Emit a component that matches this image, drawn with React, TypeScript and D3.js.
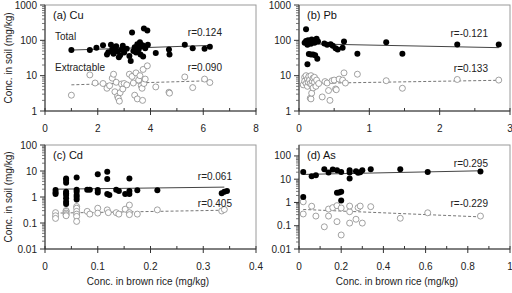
import React from 'react';
import * as d3 from 'd3';

type Pt = [number, number];

// [rice conc, soil conc] pairs, mg/kg
const cuTotal: Pt[] = [
  [1.0, 53], [1.7, 53], [1.95, 62], [2.2, 72], [2.35, 40], [2.4, 46], [2.5, 75], [2.55, 55],
  [2.6, 42], [2.65, 62], [2.7, 68], [2.75, 48], [2.8, 33], [2.85, 38], [2.9, 55], [2.95, 70],
  [3.0, 45], [3.1, 58], [3.2, 36], [3.25, 26], [3.3, 167], [3.35, 50], [3.4, 64], [3.45, 45],
  [3.5, 78], [3.55, 55], [3.6, 88], [3.62, 40], [3.65, 67], [3.7, 73], [3.72, 35], [3.75, 215],
  [3.8, 60], [3.88, 190], [3.9, 75], [4.2, 44], [4.7, 55], [4.72, 40], [5.3, 75], [5.6, 60],
  [6.05, 58], [6.25, 66],
];
const cuExtract: Pt[] = [
  [1.0, 2.8], [1.7, 10.5], [1.9, 6.2], [2.2, 6.0], [2.35, 4.4], [2.45, 5.2], [2.55, 8.5], [2.6, 11],
  [2.65, 3.5], [2.7, 6.5], [2.75, 2.6], [2.78, 2.3], [2.82, 1.9], [2.85, 3.3], [2.9, 5.8], [2.95, 4.2],
  [3.0, 6.0], [3.1, 5.5], [3.2, 11], [3.3, 9.5], [3.35, 6.2], [3.4, 2.8], [3.45, 12], [3.5, 2.2],
  [3.55, 7.5], [3.6, 10], [3.65, 5.2], [3.68, 4.4], [3.7, 2.0], [3.72, 15], [3.75, 6.0], [3.8, 8],
  [3.88, 19], [4.2, 4.8], [4.7, 3.4], [4.72, 3.2], [5.3, 9.2], [5.6, 4.6], [6.05, 8], [6.25, 6.4],
];
const cuTotalFit: Pt[] = [[1.0, 53], [6.3, 72]];
const cuExtractFit: Pt[] = [[1.0, 5.5], [6.3, 7.2]];

const pbTotal: Pt[] = [
  [0.1, 205], [0.08, 85], [0.1, 95], [0.12, 75], [0.13, 100], [0.15, 90], [0.17, 80], [0.18, 105],
  [0.2, 95], [0.22, 85], [0.25, 110], [0.27, 92], [0.14, 41], [0.17, 40], [0.2, 40], [0.23, 38],
  [0.12, 21], [0.26, 30], [0.36, 82], [0.4, 75], [0.45, 78], [0.48, 70], [0.52, 60], [0.55, 55],
  [0.62, 62], [0.64, 92], [0.83, 42], [1.24, 88], [1.47, 42], [2.25, 76], [2.84, 76],
];
const pbExtract: Pt[] = [
  [0.06, 5.5], [0.08, 9], [0.08, 7], [0.1, 6], [0.1, 10], [0.12, 8], [0.12, 5], [0.13, 6.5],
  [0.14, 9.5], [0.15, 7.5], [0.16, 6], [0.16, 2.3], [0.17, 2.2], [0.17, 10], [0.18, 5.5], [0.18, 3.2],
  [0.19, 7], [0.2, 8.5], [0.2, 4.5], [0.22, 6.5], [0.22, 9], [0.24, 5], [0.25, 7.5], [0.28, 6],
  [0.33, 2.5], [0.37, 6.8], [0.4, 6.2], [0.42, 3.8], [0.44, 2.0], [0.47, 7.2], [0.5, 7.5], [0.52, 4.2],
  [0.53, 4.0], [0.57, 8], [0.62, 7.5], [0.64, 12], [0.66, 6.2], [0.83, 11], [1.24, 7.2], [1.47, 4.4],
  [2.25, 7.8], [2.84, 7.5],
];
const pbTotalFit: Pt[] = [[0.08, 80], [2.84, 62]];
const pbExtractFit: Pt[] = [[0.06, 6.0], [2.84, 7.4]];

const cdTotal: Pt[] = [
  [0.02, 1.85], [0.02, 1.5], [0.02, 1.3],
  [0.04, 5.1], [0.04, 4.5], [0.04, 3.5], [0.04, 1.6], [0.04, 1.4], [0.04, 1.2], [0.04, 0.9], [0.04, 0.66], [0.04, 0.54],
  [0.06, 5.6], [0.06, 1.9], [0.06, 1.6], [0.06, 1.2], [0.06, 1.0], [0.06, 0.8],
  [0.08, 1.9], [0.085, 1.9], [0.1, 7.5], [0.1, 1.85], [0.1, 1.5],
  [0.118, 9.3], [0.118, 4.9], [0.118, 1.3], [0.122, 1.2],
  [0.135, 1.9], [0.14, 1.7], [0.152, 1.3], [0.16, 5.2], [0.16, 1.7], [0.16, 1.3], [0.175, 1.8],
  [0.213, 1.8], [0.335, 1.4], [0.34, 1.6], [0.345, 1.7],
];
const cdExtract: Pt[] = [
  [0.02, 0.25], [0.02, 0.19], [0.02, 0.15],
  [0.04, 0.30], [0.04, 0.28], [0.04, 0.24], [0.04, 0.21], [0.04, 0.19],
  [0.06, 0.43], [0.06, 0.37], [0.06, 0.28], [0.06, 0.22], [0.06, 0.18], [0.06, 0.115],
  [0.08, 0.28], [0.085, 0.22], [0.1, 0.37], [0.1, 0.24], [0.118, 0.32], [0.12, 0.25],
  [0.135, 0.25], [0.14, 0.22], [0.152, 0.34], [0.16, 0.49], [0.16, 0.25], [0.16, 0.21],
  [0.175, 0.22], [0.213, 0.32], [0.335, 0.29], [0.34, 0.33],
];
const cdTotalFit: Pt[] = [[0.02, 2.0], [0.34, 2.4]];
const cdExtractFit: Pt[] = [[0.02, 0.24], [0.34, 0.31]];

const asTotal: Pt[] = [
  [0.02, 20.6], [0.02, 1.7], [0.06, 13.5], [0.08, 14.8], [0.12, 27], [0.14, 19.4], [0.16, 26],
  [0.18, 24], [0.2, 20.6], [0.18, 2.6], [0.19, 2.7], [0.2, 2.9], [0.2, 1.2], [0.24, 24],
  [0.24, 19.4], [0.24, 10.7], [0.27, 22], [0.28, 19], [0.29, 20], [0.3, 24], [0.34, 27],
  [0.48, 27], [0.61, 20.6], [0.86, 21.5],
];
const asExtract: Pt[] = [
  [0.02, 1.07], [0.02, 0.32], [0.06, 0.69], [0.08, 0.26], [0.12, 0.09], [0.14, 0.52], [0.14, 0.26],
  [0.16, 0.6], [0.18, 0.73], [0.18, 0.15], [0.2, 0.58], [0.2, 0.04], [0.24, 0.4], [0.24, 0.7],
  [0.24, 0.13], [0.27, 0.19], [0.28, 0.6], [0.29, 0.7], [0.3, 0.13], [0.34, 0.66], [0.48, 0.21],
  [0.61, 0.36], [0.86, 0.26],
];
const asTotalFit: Pt[] = [[0.02, 16], [0.86, 23]];
const asExtractFit: Pt[] = [[0.02, 0.5], [0.86, 0.24]];

const rValues = {
  Cu: ['r=0.124', 'r=0.090'],
  Pb: ['r=-0.121', 'r=0.133'],
  Cd: ['r=0.061', 'r=0.405'],
  As: ['r=0.295', 'r=-0.229'],
};

const FONT = '"Liberation Sans", Arial, sans-serif';

interface PanelDef {
  title: string;
  el: keyof typeof rValues;
  left: number; right: number; top: number; bottom: number;
  xMax: number; xStep: number;
  yMin: number; yMax: number;
  total: Pt[]; extract: Pt[]; totalFit: Pt[]; extractFit: Pt[];
  rTotalY: number; rExtractY: number; rRight: number;
  showYLabel: boolean; showXLabel: boolean; xLabelX?: number;
  labels?: boolean;
}

const panels: PanelDef[] = [
  { title: '(a) Cu', el: 'Cu', left: 45, right: 256, top: 5, bottom: 111, xMax: 8, xStep: 2,
    yMin: 1, yMax: 1000, total: cuTotal, extract: cuExtract, totalFit: cuTotalFit, extractFit: cuExtractFit,
    rTotalY: 32, rExtractY: 67, rRight: 222, showYLabel: true, showXLabel: false, labels: true },
  { title: '(b) Pb', el: 'Pb', left: 299, right: 510, top: 5, bottom: 111, xMax: 3, xStep: 1,
    yMin: 1, yMax: 1000, total: pbTotal, extract: pbExtract, totalFit: pbTotalFit, extractFit: pbExtractFit,
    rTotalY: 33, rExtractY: 68, rRight: 488, showYLabel: false, showXLabel: false },
  { title: '(c) Cd', el: 'Cd', left: 45, right: 256, top: 145, bottom: 249, xMax: 0.4, xStep: 0.1,
    yMin: 0.01, yMax: 100, total: cdTotal, extract: cdExtract, totalFit: cdTotalFit, extractFit: cdExtractFit,
    rTotalY: 176, rExtractY: 203, rRight: 232, showYLabel: true, showXLabel: true, xLabelX: 148 },
  { title: '(d) As', el: 'As', left: 299, right: 510, top: 145, bottom: 249, xMax: 1, xStep: 0.2,
    yMin: 0.01, yMax: 295, total: asTotal, extract: asExtract, totalFit: asTotalFit, extractFit: asExtractFit,
    rTotalY: 163, rExtractY: 203, rRight: 488, showYLabel: false, showXLabel: true, xLabelX: 397 },
];

const fmt = (v: number) => String(+v.toFixed(3));

function Panel({ p }: { p: PanelDef }) {
  // bottom edge of the log axis sits on the lowest decade
  const x = d3.scaleLinear().domain([0, p.xMax]).range([p.left, p.right]);
  const y = d3.scaleLog().domain([p.yMin, p.yMax]).range([p.bottom, p.top]);

  const nX = Math.round(p.xMax / p.xStep);
  const xMajor = d3.range(nX + 1).map((i) => i * p.xStep);
  const xMinor = d3.range(nX).map((i) => (i + 0.5) * p.xStep);

  const yTicks = y.ticks();
  const isMajor = (v: number) => Math.abs(Math.log10(v) - Math.round(Math.log10(v))) < 1e-6;
  const yMajor = yTicks.filter(isMajor);
  const yMinor = yTicks.filter((v) => !isMajor(v));

  const line = d3.line<Pt>().x((d) => x(d[0])).y((d) => y(d[1]));
  const [rT, rE] = rValues[p.el];

  return (
    <g>
      {/* frame */}
      <rect x={p.left} y={p.top} width={p.right - p.left} height={p.bottom - p.top}
        fill="none" stroke="#9a9a9a" strokeWidth={1} />
      <line x1={p.left} x2={p.left} y1={p.top} y2={p.bottom} stroke="#333" />
      <line x1={p.left} x2={p.right} y1={p.bottom} y2={p.bottom} stroke="#333" />

      {yMajor.map((v) => (
        <g key={`ym${v}`}>
          <line x1={p.left - 5} x2={p.left} y1={y(v)} y2={y(v)} stroke="#333" />
          <text x={p.left - 8} y={y(v)} dy="0.35em" textAnchor="end" fontSize={10} fill="#222">{fmt(v)}</text>
        </g>
      ))}
      {yMinor.map((v) => (
        <line key={`yn${v}`} x1={p.left - 3} x2={p.left} y1={y(v)} y2={y(v)} stroke="#555" strokeWidth={0.8} />
      ))}

      {xMajor.map((v) => (
        <g key={`xm${v}`}>
          <line x1={x(v)} x2={x(v)} y1={p.bottom - 3} y2={p.bottom + 4} stroke="#333" />
          <text x={x(v)} y={p.bottom + 21} textAnchor="middle" fontSize={10} fill="#222">{fmt(v)}</text>
        </g>
      ))}
      {xMinor.map((v) => (
        <line key={`xn${v}`} x1={x(v)} x2={x(v)} y1={p.bottom - 3} y2={p.bottom} stroke="#333" />
      ))}

      <path d={line(p.totalFit) || ''} fill="none" stroke="#444" strokeWidth={1} />
      <path d={line(p.extractFit) || ''} fill="none" stroke="#777" strokeWidth={1} strokeDasharray="3,2" />

      {p.extract.map((d, i) => (
        <circle key={`e${i}`} cx={x(d[0])} cy={y(d[1])} r={3} fill="white" stroke="#8a8a8a" strokeWidth={0.8} />
      ))}
      {p.total.map((d, i) => (
        <circle key={`t${i}`} cx={x(d[0])} cy={y(d[1])} r={3} fill="#000" />
      ))}

      <text x={p.left + 8} y={p.top + 14} fontSize={11} fill="#111">{p.title}</text>
      {p.labels && (
        <>
          <text x={55} y={36} dy="0.35em" fontSize={10} fill="#222">Total</text>
          <text x={55} y={67} dy="0.35em" fontSize={10} fill="#222">Extractable</text>
        </>
      )}
      <text x={p.rRight} y={p.rTotalY} dy="0.35em" textAnchor="end" fontSize={10} fill="#222">{rT}</text>
      <text x={p.rRight} y={p.rExtractY} dy="0.35em" textAnchor="end" fontSize={10} fill="#222">{rE}</text>

      {p.showYLabel && (
        <text transform={`translate(12,${(p.top + p.bottom) / 2}) rotate(-90)`} textAnchor="middle"
          fontSize={10} fill="#222">Conc. in soil (mg/kg)</text>
      )}
      {p.showXLabel && (
        <text x={p.xLabelX} y={285} textAnchor="middle" fontSize={10} fill="#222">Conc. in brown rice (mg/kg)</text>
      )}
    </g>
  );
}

export default function App() {
  return (
    <svg width={512} height={293} style={{ position: 'absolute', left: 0, top: 0, background: '#fff' }}
      fontFamily={FONT}>
      <rect width={512} height={293} fill="#fff" />
      {panels.map((p) => (
        <Panel key={p.el} p={p} />
      ))}
    </svg>
  );
}
